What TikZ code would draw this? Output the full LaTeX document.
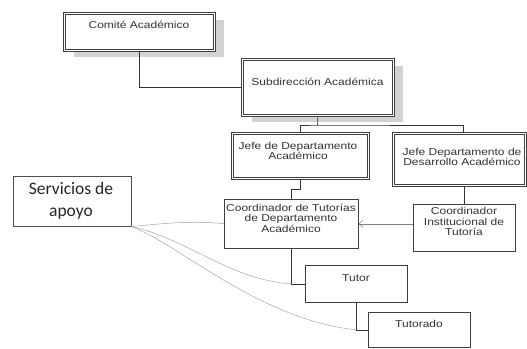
\documentclass[tikz,border=0pt]{standalone}
\usepackage{fontspec}
\setmainfont{Liberation Sans}[FakeStretch=1.2]
\newfontfamily\calib{Carlito}
\usetikzlibrary{arrows.meta,shadows}
\begin{document}
\begin{tikzpicture}[x=1pt,y=-1pt,
 box/.style={draw=black!75, line width=0.6pt, inner sep=0pt, anchor=north west, fill=white},
 dbox/.style={box, double=white, double distance=1.6pt, line width=0.8pt},
 shad/.style={drop shadow={shadow xshift=10pt,shadow yshift=-7pt,fill=black!22,opacity=.8}},
 lbl/.style={font=\fontsize{10}{10.5}\selectfont, text=black!80, align=center, inner sep=0pt},
 conn/.style={draw=black!80, line width=0.6pt},
 soft/.style={draw=black!35, line width=0.5pt},
 arr/.style={draw=black!50, line width=0.5pt, -{Straight Barb[length=4pt,width=7pt]}},
]
\useasboundingbox (0,0) rectangle (527,348);

% boxes
\node[dbox,shad,minimum width=150pt,minimum height=37pt] (comite) at (64,13) {};
\node[lbl] (comiteT) at (139,25) {Comité Académico};

\node[dbox,shad,minimum width=151pt,minimum height=56pt] (sub) at (242,59) {};
\node[lbl] (subT) at (317.5,82) {Subdirección Académica};

\node[dbox,minimum width=136pt,minimum height=45pt] (jefeA) at (232,133) {};
\node[lbl] (jefeAT) at (298,151) {Jefe de Departamento\\Académico};

\node[dbox,minimum width=132pt,minimum height=52pt] (jefeD) at (393,133) {};
\node[lbl] (jefeDT) at (462,157) {Jefe Departamento de\\Desarrollo Académico};

\node[box,minimum width=134pt,minimum height=49pt] (coordT) at (224,199) {};
\node[lbl] (coordTT) at (291,218) {Coordinador de Tutorías\\de Departamento\\Académico};

\node[box,minimum width=102pt,minimum height=47pt] (coordI) at (413,204) {};
\node[lbl] (coordIT) at (464,221.5) {Coordinador\\Institucional de\\Tutoría};

\node[box,minimum width=102pt,minimum height=37pt] (tutor) at (305,265) {};
\node[lbl] (tutorT) at (356,278) {Tutor};

\node[box,minimum width=102pt,minimum height=35pt] (tutorado) at (368,312) {};
\node[lbl] (tutoradoT) at (419,324) {Tutorado};

\node[box,draw=black!70,minimum width=118pt,minimum height=50pt] (serv) at (13,176) {};
\node[inner sep=0pt,align=center,text=black!85,font=\calib\fontsize{17.5}{21.5}\selectfont] (servT) at (71,201) {Servicios de\\apoyo};

% connectors
\draw[conn] (comite.south) |- (sub.west);
\coordinate (bus) at (317.5,125);
\draw[conn] (sub.south) -- (bus);
\draw[conn] (jefeA.north) |- (bus) -| ([xshift=4pt]jefeD.north);
\draw[conn] (jefeA.south) -- ++(0,10) -| (coordT.north);
\draw[conn] (coordI.north |- jefeD.south) -- (coordI.north);
\draw[arr] (coordI.west |- coordT.east) -- (coordT.east);
\coordinate (e1) at (coordT.south |- tutor.west);
\coordinate (e2) at (tutor.south |- tutorado.west);
\draw[conn] (coordT.south) -- (e1) -- (tutor.west);
\draw[conn] (tutor.south) -- (e2) -- (tutorado.west);

% soft curves
\draw[soft] (serv.south east) .. controls (175,222) and (200,221) .. (coordT.west);
\draw[soft] (serv.south east) .. controls (190,240) and (230,280) .. (e1);
\draw[soft] (serv.south east) .. controls (180,245) and (260,320) .. (e2);
\end{tikzpicture}
\end{document}
